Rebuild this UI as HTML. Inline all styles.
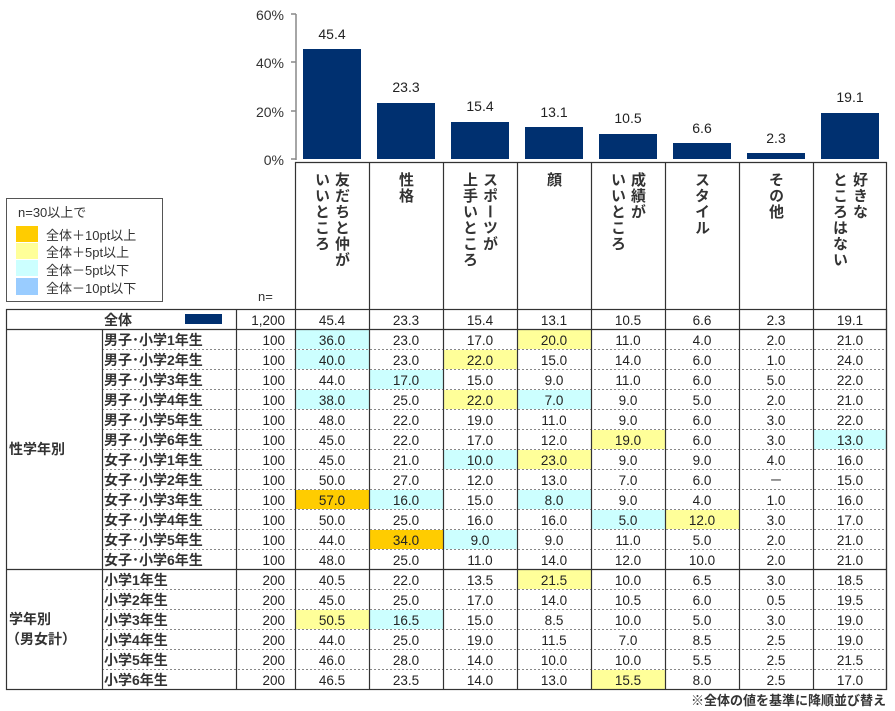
<!DOCTYPE html>
<html><head><meta charset="utf-8"><style>
body{margin:0;background:#fff;width:895px;height:711px;position:relative;overflow:hidden;font-family:"Liberation Sans","Noto Sans CJK JP",sans-serif;}
.v{position:absolute;top:172px;writing-mode:vertical-rl;font-size:15px;font-weight:bold;color:#333;line-height:20px;letter-spacing:1px;font-family:"Noto Sans CJK JP","Liberation Sans",sans-serif;}
svg text{font-family:"Liberation Sans","Noto Sans CJK JP",sans-serif;}
</style></head><body>
<svg width="895" height="711" style="position:absolute;left:0;top:0">
<g stroke="#888" stroke-width="1.5"><line x1="296" y1="14" x2="296" y2="160"/><line x1="291" y1="14" x2="296" y2="14"/><line x1="291" y1="62" x2="296" y2="62"/><line x1="291" y1="111" x2="296" y2="111"/><line x1="291" y1="159" x2="296" y2="159"/></g>
<g font-size="14" fill="#333" text-anchor="end"><text x="284" y="20">60%</text><text x="284" y="68">40%</text><text x="284" y="117">20%</text><text x="284" y="165">0%</text></g>
<g fill="#003070">
<rect x="303" y="49" width="58" height="110"/><rect x="377" y="103" width="58" height="56"/><rect x="451" y="122" width="58" height="37"/><rect x="525" y="127" width="58" height="32"/><rect x="599" y="134" width="58" height="25"/><rect x="673" y="143" width="58" height="16"/><rect x="747" y="153" width="58" height="6"/><rect x="821" y="113" width="58" height="46"/></g>
<g font-size="14" fill="#222" text-anchor="middle"><text x="332" y="39">45.4</text><text x="406" y="92">23.3</text><text x="480" y="111">15.4</text><text x="554" y="117">13.1</text><text x="628" y="123">10.5</text><text x="702" y="133">6.6</text><text x="776" y="143">2.3</text><text x="850" y="102">19.1</text></g>
<rect x="6.5" y="198.5" width="156" height="103" fill="none" stroke="#555"/>
<g font-size="13" fill="#333"><text x="18" y="217">n=30以上で</text><text x="46" y="240">全体＋10pt以上</text><text x="46" y="257">全体＋5pt以上</text><text x="46" y="275">全体－5pt以下</text><text x="46" y="293">全体－10pt以下</text></g>
<rect x="16" y="226" width="22" height="16" fill="#FFCC00"/><rect x="16" y="243" width="22" height="16" fill="#FFFF99"/><rect x="16" y="260" width="22" height="16" fill="#CCFFFF"/><rect x="16" y="278" width="22" height="17" fill="#99CCFF"/>
<text x="258" y="301" font-size="13" fill="#333">n=</text>
<g>
<rect x="296" y="330" width="73" height="19" fill="#CCFFFF"/><rect x="518" y="330" width="73" height="19" fill="#FFFF99"/>
<rect x="296" y="350" width="73" height="19" fill="#CCFFFF"/><rect x="444" y="350" width="73" height="19" fill="#FFFF99"/>
<rect x="370" y="370" width="73" height="19" fill="#CCFFFF"/>
<rect x="296" y="390" width="73" height="19" fill="#CCFFFF"/><rect x="444" y="390" width="73" height="19" fill="#FFFF99"/><rect x="518" y="390" width="73" height="19" fill="#CCFFFF"/>
<rect x="592" y="430" width="73" height="19" fill="#FFFF99"/><rect x="814" y="430" width="73" height="19" fill="#CCFFFF"/>
<rect x="444" y="450" width="73" height="19" fill="#CCFFFF"/><rect x="518" y="450" width="73" height="19" fill="#FFFF99"/>
<rect x="296" y="490" width="73" height="19" fill="#FFCC00"/><rect x="370" y="490" width="73" height="19" fill="#CCFFFF"/><rect x="518" y="490" width="73" height="19" fill="#CCFFFF"/>
<rect x="592" y="510" width="73" height="19" fill="#CCFFFF"/><rect x="666" y="510" width="73" height="19" fill="#FFFF99"/>
<rect x="370" y="530" width="73" height="19" fill="#FFCC00"/><rect x="444" y="530" width="73" height="19" fill="#CCFFFF"/>
<rect x="518" y="570" width="73" height="19" fill="#FFFF99"/>
<rect x="296" y="610" width="73" height="19" fill="#FFFF99"/><rect x="370" y="610" width="73" height="19" fill="#CCFFFF"/>
<rect x="592" y="670" width="73" height="19" fill="#FFFF99"/>
</g>
<g stroke="#888" stroke-dasharray="2,2" stroke-width="1">
<line x1="102" y1="349.5" x2="887" y2="349.5"/><line x1="102" y1="369.5" x2="887" y2="369.5"/><line x1="102" y1="389.5" x2="887" y2="389.5"/><line x1="102" y1="409.5" x2="887" y2="409.5"/><line x1="102" y1="429.5" x2="887" y2="429.5"/><line x1="102" y1="449.5" x2="887" y2="449.5"/><line x1="102" y1="469.5" x2="887" y2="469.5"/><line x1="102" y1="489.5" x2="887" y2="489.5"/><line x1="102" y1="509.5" x2="887" y2="509.5"/><line x1="102" y1="529.5" x2="887" y2="529.5"/><line x1="102" y1="549.5" x2="887" y2="549.5"/>
<line x1="102" y1="589.5" x2="887" y2="589.5"/><line x1="102" y1="609.5" x2="887" y2="609.5"/><line x1="102" y1="629.5" x2="887" y2="629.5"/><line x1="102" y1="649.5" x2="887" y2="649.5"/><line x1="102" y1="669.5" x2="887" y2="669.5"/>
</g>
<g stroke="#333" stroke-width="1.2" fill="none">
<rect x="6.5" y="309.5" width="880" height="380"/>
<line x1="6" y1="329.5" x2="887" y2="329.5"/><line x1="6" y1="569.5" x2="887" y2="569.5"/>
<line x1="102.5" y1="329" x2="102.5" y2="690"/><line x1="236.5" y1="309" x2="236.5" y2="690"/>
<line x1="295.5" y1="162" x2="295.5" y2="690"/>
<line x1="369.5" y1="162" x2="369.5" y2="690"/><line x1="443.5" y1="162" x2="443.5" y2="690"/><line x1="517.5" y1="162" x2="517.5" y2="690"/><line x1="591.5" y1="162" x2="591.5" y2="690"/><line x1="665.5" y1="162" x2="665.5" y2="690"/><line x1="739.5" y1="162" x2="739.5" y2="690"/><line x1="813.5" y1="162" x2="813.5" y2="690"/><line x1="886.5" y1="162" x2="886.5" y2="690"/>
<line x1="295" y1="162.5" x2="887" y2="162.5"/>
</g>
<rect x="185" y="314" width="37" height="10" fill="#003070"/>
<g font-size="14" font-weight="bold" fill="#333">
<text x="104" y="325">全体</text>
<text x="104" y="345">男子･小学1年生</text><text x="104" y="365">男子･小学2年生</text><text x="104" y="385">男子･小学3年生</text><text x="104" y="405">男子･小学4年生</text><text x="104" y="425">男子･小学5年生</text><text x="104" y="445">男子･小学6年生</text>
<text x="104" y="465">女子･小学1年生</text><text x="104" y="485">女子･小学2年生</text><text x="104" y="505">女子･小学3年生</text><text x="104" y="525">女子･小学4年生</text><text x="104" y="545">女子･小学5年生</text><text x="104" y="565">女子･小学6年生</text>
<text x="104" y="585">小学1年生</text><text x="104" y="605">小学2年生</text><text x="104" y="625">小学3年生</text><text x="104" y="645">小学4年生</text><text x="104" y="665">小学5年生</text><text x="104" y="685">小学6年生</text>
<text x="9" y="454">性学年別</text><text x="9" y="624">学年別</text><text x="6" y="644">（男女計）</text>
</g>
<g font-size="13.5" fill="#222" text-anchor="end">
<text x="285" y="325">1,200</text>
<text x="285" y="345">100</text><text x="285" y="365">100</text><text x="285" y="385">100</text><text x="285" y="405">100</text><text x="285" y="425">100</text><text x="285" y="445">100</text><text x="285" y="465">100</text><text x="285" y="485">100</text><text x="285" y="505">100</text><text x="285" y="525">100</text><text x="285" y="545">100</text><text x="285" y="565">100</text>
<text x="285" y="585">200</text><text x="285" y="605">200</text><text x="285" y="625">200</text><text x="285" y="645">200</text><text x="285" y="665">200</text><text x="285" y="685">200</text>
</g>
<g font-size="13.5" fill="#222" text-anchor="middle">
<g transform="translate(332,0)"><text y="325">45.4</text><text y="345">36.0</text><text y="365">40.0</text><text y="385">44.0</text><text y="405">38.0</text><text y="425">48.0</text><text y="445">45.0</text><text y="465">45.0</text><text y="485">50.0</text><text y="505">57.0</text><text y="525">50.0</text><text y="545">44.0</text><text y="565">48.0</text><text y="585">40.5</text><text y="605">45.0</text><text y="625">50.5</text><text y="645">44.0</text><text y="665">46.0</text><text y="685">46.5</text></g>
<g transform="translate(406,0)"><text y="325">23.3</text><text y="345">23.0</text><text y="365">23.0</text><text y="385">17.0</text><text y="405">25.0</text><text y="425">22.0</text><text y="445">22.0</text><text y="465">21.0</text><text y="485">27.0</text><text y="505">16.0</text><text y="525">25.0</text><text y="545">34.0</text><text y="565">25.0</text><text y="585">22.0</text><text y="605">25.0</text><text y="625">16.5</text><text y="645">25.0</text><text y="665">28.0</text><text y="685">23.5</text></g>
<g transform="translate(480,0)"><text y="325">15.4</text><text y="345">17.0</text><text y="365">22.0</text><text y="385">15.0</text><text y="405">22.0</text><text y="425">19.0</text><text y="445">17.0</text><text y="465">10.0</text><text y="485">12.0</text><text y="505">15.0</text><text y="525">16.0</text><text y="545">9.0</text><text y="565">11.0</text><text y="585">13.5</text><text y="605">17.0</text><text y="625">15.0</text><text y="645">19.0</text><text y="665">14.0</text><text y="685">14.0</text></g>
<g transform="translate(554,0)"><text y="325">13.1</text><text y="345">20.0</text><text y="365">15.0</text><text y="385">9.0</text><text y="405">7.0</text><text y="425">11.0</text><text y="445">12.0</text><text y="465">23.0</text><text y="485">13.0</text><text y="505">8.0</text><text y="525">16.0</text><text y="545">9.0</text><text y="565">14.0</text><text y="585">21.5</text><text y="605">14.0</text><text y="625">8.5</text><text y="645">11.5</text><text y="665">10.0</text><text y="685">13.0</text></g>
<g transform="translate(628,0)"><text y="325">10.5</text><text y="345">11.0</text><text y="365">14.0</text><text y="385">11.0</text><text y="405">9.0</text><text y="425">9.0</text><text y="445">19.0</text><text y="465">9.0</text><text y="485">7.0</text><text y="505">9.0</text><text y="525">5.0</text><text y="545">11.0</text><text y="565">12.0</text><text y="585">10.0</text><text y="605">10.5</text><text y="625">10.0</text><text y="645">7.0</text><text y="665">10.0</text><text y="685">15.5</text></g>
<g transform="translate(702,0)"><text y="325">6.6</text><text y="345">4.0</text><text y="365">6.0</text><text y="385">6.0</text><text y="405">5.0</text><text y="425">6.0</text><text y="445">6.0</text><text y="465">9.0</text><text y="485">6.0</text><text y="505">4.0</text><text y="525">12.0</text><text y="545">5.0</text><text y="565">10.0</text><text y="585">6.5</text><text y="605">6.0</text><text y="625">5.0</text><text y="645">8.5</text><text y="665">5.5</text><text y="685">8.0</text></g>
<g transform="translate(776,0)"><text y="325">2.3</text><text y="345">2.0</text><text y="365">1.0</text><text y="385">5.0</text><text y="405">2.0</text><text y="425">3.0</text><text y="445">3.0</text><text y="465">4.0</text><text y="485">－</text><text y="505">1.0</text><text y="525">3.0</text><text y="545">2.0</text><text y="565">2.0</text><text y="585">3.0</text><text y="605">0.5</text><text y="625">3.0</text><text y="645">2.5</text><text y="665">2.5</text><text y="685">2.5</text></g>
<g transform="translate(850,0)"><text y="325">19.1</text><text y="345">21.0</text><text y="365">24.0</text><text y="385">22.0</text><text y="405">21.0</text><text y="425">22.0</text><text y="445">13.0</text><text y="465">16.0</text><text y="485">15.0</text><text y="505">16.0</text><text y="525">17.0</text><text y="545">21.0</text><text y="565">21.0</text><text y="585">18.5</text><text y="605">19.5</text><text y="625">19.0</text><text y="645">19.0</text><text y="665">21.5</text><text y="685">17.0</text></g>
</g>
<text x="886" y="705" font-size="13" font-weight="bold" fill="#333" text-anchor="end">※全体の値を基準に降順並び替え</text>
</svg>
<div class="v" style="left:312px">友だちと仲が<br>いいところ</div>
<div class="v" style="left:396px">性格</div>
<div class="v" style="left:460px">スポーツが<br>上手いところ</div>
<div class="v" style="left:544px">顔</div>
<div class="v" style="left:608px">成績が<br>いいところ</div>
<div class="v" style="left:692px">スタイル</div>
<div class="v" style="left:766px">その他</div>
<div class="v" style="left:830px">好きな<br>ところはない</div>
</body></html>
